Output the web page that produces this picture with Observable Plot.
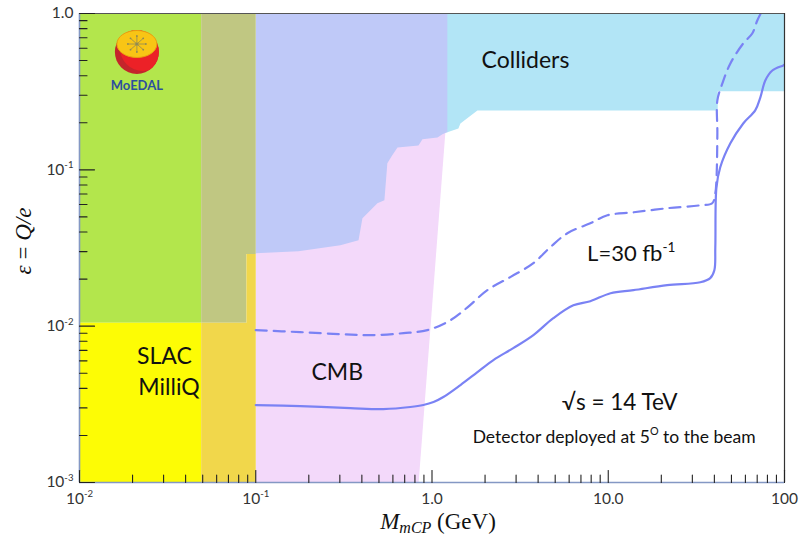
<!DOCTYPE html>
<html><head><meta charset="utf-8">
<script src="https://cdn.jsdelivr.net/npm/d3@7"></script>
<script src="https://cdn.jsdelivr.net/npm/@observablehq/plot@0.6"></script>
<style>body{margin:0;background:#fff}#chart{width:800px;height:535px}</style>
</head><body><div id="chart"></div>
<script>
// ---------- data ----------
const xDomain = [0.01, 100];
const yDomain = [0.001, 1];

// excluded regions (polygon vertices, GeV / epsilon)
const collidersX = [1.0, 100, 100, 41.8, 41.8, 1.81, 1.449, 1.412, 1.222, 1.0];
const collidersY = [1, 1, 0.318, 0.318, 0.240, 0.240, 0.198, 0.184, 0.174, 0.174];
const cmbX = [0.1, 0.84, 1.19, 0.1];
const cmbY = [0.001, 0.001, 0.172, 0.172];
const otherX = [0.1, 1.222, 1.222, 1.19, 1.146, 1.074, 0.883, 0.838, 0.637, 0.595, 0.558, 0.537, 0.490, 0.403, 0.383, 0.302, 0.1746, 0.1];
const otherY = [1, 1, 0.174, 0.172, 0.169, 0.161, 0.157, 0.143, 0.139, 0.124, 0.110, 0.0638, 0.0611, 0.0490, 0.0355, 0.0329, 0.0302, 0.0293];
const greenX = [0.01, 0.049, 0.049, 0.01];
const greenY = [0.0105, 0.0105, 1, 1];
const slacX = [0.01, 0.049, 0.049, 0.01];
const slacY = [0.001, 0.001, 0.0105, 0.0105];
const oliveX = [0.049, 0.1, 0.1, 0.0885, 0.0885, 0.049];
const oliveY = [1, 1, 0.029, 0.029, 0.0105, 0.0105];
const goldX = [0.049, 0.0885, 0.0885, 0.1, 0.1, 0.049];
const goldY = [0.0105, 0.0105, 0.029, 0.029, 0.001, 0.001];

// MoEDAL sensitivity, L = 30 fb^-1 (solid)
const solidX = [0.1, 0.179, 0.344, 0.530, 0.753, 0.893, 1.02, 1.16, 1.45, 1.81, 2.23, 2.89, 3.76, 4.88, 6.34, 7.91, 10.3, 13.9, 21.6, 33.3, 37.9, 40.0, 40.5, 41.1, 43.2, 49.3, 58.3, 68.2, 72.9, 77.8, 85.3, 98.4, 100];
const solidY = [0.00313, 0.00308, 0.00299, 0.00295, 0.00304, 0.00313, 0.00327, 0.00352, 0.0042, 0.00508, 0.00607, 0.00723, 0.00876, 0.01125, 0.0136, 0.01445, 0.01625, 0.0170, 0.01829, 0.0191, 0.0203, 0.0228, 0.0320, 0.0773, 0.1038, 0.1477, 0.198, 0.240, 0.290, 0.373, 0.432, 0.465, 0.47];
// dashed curve
const dashX = [0.1, 0.179, 0.302, 0.448, 0.689, 0.942, 1.27, 1.59, 2.06, 2.78, 3.76, 4.69, 5.86, 7.91, 9.89, 13.9, 21.6, 33.3, 38.9, 40.5, 41.1, 41.6, 41.6, 44.4, 49.3, 58.3, 65.6, 70.1, 74.8];
const dashY = [0.00943, 0.00916, 0.00889, 0.00876, 0.00902, 0.00943, 0.0109, 0.0132, 0.0170, 0.0206, 0.0253, 0.0320, 0.0393, 0.0455, 0.0512, 0.0535, 0.0568, 0.0593, 0.0611, 0.0708, 0.0857, 0.171, 0.278, 0.357, 0.479, 0.643, 0.745, 0.902, 1.045];

// ticks and labels
const xMajor = [0.01, 0.1, 1, 10, 100];
const xTickLabels = ["10^{-2}", "10^{-1}", "1.0", "10.0", "100"];
const yMajor = [1, 0.1, 0.01, 0.001];
const yTickLabels = ["1.0", "10^{-1}", "10^{-2}", "10^{-3}"];
const minorSteps = [2, 3, 4, 5, 6, 7, 8, 9];
const xMinor = [0.01, 0.1, 1, 10].flatMap(d => minorSteps.map(k => d * k));
const yMinor = [0.001, 0.01, 0.1].flatMap(d => minorSteps.map(k => d * k));

// annotations
const labels = [
  {x: 3.39, y: 0.50, text: "Colliders", size: 23},
  {x: 13.5, y: 0.0288, text: "L=30 fb^{-1}", size: 22},
  {x: 0.0303, y: 0.00634, text: "SLAC", size: 23},
  {x: 0.0322, y: 0.00402, text: "MilliQ", size: 23},
  {x: 0.290, y: 0.00508, text: "CMB", size: 23},
  {x: 11.6, y: 0.00322, text: "√s = 14 TeV", size: 22.5},
  {x: 10.8, y: 0.00195, text: "Detector deployed at 5^{O} to the beam", size: 17.5}
];

const C = {
  colliders: "#b2e5f6", cmb: "#f3d9fa", other: "#bfc9f8", green: "#b3e64c",
  slac: "#fdfc05", olive: "#c0c782", gold: "#f1d74b", line: "#7a82f4"
};

const poly = (X, Y, fill) => Plot.line(X.map((_, i) => i), {x: i => X[i], y: i => Y[i], fill, stroke: "none", curve: "linear-closed"});
const tickShape = {draw(ctx, l) { ctx.moveTo(0, 0); ctx.lineTo(0, -l); }};
const font = "Lato, 'Open Sans', sans-serif";

const plot = Plot.plot({
  width: 800, height: 535,
  marginLeft: 79, marginRight: 16, marginTop: 13, marginBottom: 53,
  style: {fontFamily: font, fontSize: "15px", background: "white", color: "#333"},
  x: {type: "log", domain: xDomain, label: null},
  y: {type: "log", domain: yDomain, label: null},
  marks: [
    poly(collidersX, collidersY, C.colliders),
    poly(cmbX, cmbY, C.cmb),
    poly(otherX, otherY, C.other),
    poly(greenX, greenY, C.green),
    poly(slacX, slacY, C.slac),
    poly(oliveX, oliveY, C.olive),
    poly(goldX, goldY, C.gold),
    Plot.line(dashX.map((_, i) => i), {x: i => dashX[i], y: i => dashY[i], stroke: C.line, strokeWidth: 2.2, strokeDasharray: "11,7", curve: "catmull-rom", clip: true}),
    Plot.line(solidX.map((_, i) => i), {x: i => solidX[i], y: i => solidY[i], stroke: C.line, strokeWidth: 2.2, curve: "catmull-rom", clip: true}),
    Plot.ruleY([yDomain[1]], {stroke: "#555", strokeWidth: 1}),
    Plot.ruleX([xDomain[1]], {stroke: "#333", strokeWidth: 1.2}),
    Plot.ruleX([xDomain[0]], {stroke: "#8498c4", strokeWidth: 1.6}),
    Plot.ruleY([yDomain[0]], {stroke: "#8498c4", strokeWidth: 1.6}),
    Plot.vector(xMajor, {x: d => d, y: () => yDomain[0], length: 12, rotate: 0, anchor: "start", shape: tickShape, stroke: "#222", strokeWidth: 1.1}),
    Plot.vector(xMinor, {x: d => d, y: () => yDomain[0], length: 7.5, rotate: 0, anchor: "start", shape: tickShape, stroke: "#222", strokeWidth: 1.1}),
    Plot.vector(yMajor, {x: () => xDomain[0], y: d => d, length: 15, rotate: 90, anchor: "start", shape: tickShape, stroke: "#222", strokeWidth: 1.1}),
    Plot.vector(yMinor, {x: () => xDomain[0], y: d => d, length: 7.5, rotate: 90, anchor: "start", shape: tickShape, stroke: "#222", strokeWidth: 1.1}),
    Plot.axisX({ticks: xMajor, tickFormat: d => xTickLabels[xMajor.indexOf(d)], tickSize: 0, tickPadding: 10, fill: "#333", fontSize: 15.5, label: null}),
    Plot.axisY({ticks: yMajor, tickFormat: d => yTickLabels[yMajor.indexOf(d)], tickSize: 0, tickPadding: 6, fill: "#333", fontSize: 15.5, label: null}),
    Plot.text(labels, {x: "x", y: "y", text: "text", fontSize: "size", fill: "#111"})
  ]
});
plot.setAttribute("font-family", font);
document.getElementById("chart").appendChild(plot);

// rich text: a^{b} -> superscript tspans
const NS = "http://www.w3.org/2000/svg";
function richify(el) {
  const s = el.textContent;
  if (!s.includes("^{")) return;
  const fs = parseFloat(getComputedStyle(el).fontSize) || 15;
  while (el.firstChild) el.removeChild(el.firstChild);
  const parts = s.split(/(\^\{[^}]*\})/).filter(p => p.length);
  let raised = false;
  for (const p of parts) {
    const t = document.createElementNS(NS, "tspan");
    if (p.startsWith("^{")) {
      t.textContent = p.slice(2, -1);
      t.setAttribute("font-size", (fs * 0.62).toFixed(1));
      t.setAttribute("dy", (-fs * 0.42).toFixed(1));
      raised = true;
    } else {
      t.textContent = p;
      if (raised) { t.setAttribute("dy", (fs * 0.42).toFixed(1)); raised = false; }
    }
    el.appendChild(t);
  }
}
plot.querySelectorAll("text").forEach(richify);

// axis titles
const svg = d3.select(plot);
const serif = "'Liberation Serif', 'DejaVu Serif', serif";
const yt = svg.append("text").attr("transform", "translate(31,241) rotate(-90)")
  .attr("text-anchor", "middle").attr("font-family", serif).attr("font-size", 23).attr("fill", "#111");
yt.append("tspan").attr("font-style", "italic").text("ε");
yt.append("tspan").text(" = ");
yt.append("tspan").attr("font-style", "italic").text("Q/e");
const xt = svg.append("text").attr("x", 438).attr("y", 529)
  .attr("text-anchor", "middle").attr("font-family", serif).attr("font-size", 23).attr("fill", "#111");
xt.append("tspan").attr("font-style", "italic").text("M");
xt.append("tspan").attr("font-style", "italic").attr("font-size", 16).attr("dy", 4).text("mCP");
xt.append("tspan").attr("dy", -4).text(" (GeV)");

// MoEDAL logo (placed through the chart's scales)
const sx = plot.scale("x"), sy = plot.scale("y");
const cx = sx.apply(0.0213), cy = sy.apply(0.563);
const logo = svg.append("g").attr("transform", `translate(${cx},${cy})`);
const defs = svg.append("defs");
defs.append("clipPath").attr("id", "logoclip").append("circle").attr("r", 22);
logo.append("circle").attr("r", 22).attr("fill", "#c4252b");
logo.append("circle").attr("cx", 6).attr("cy", -4).attr("r", 23).attr("fill", "#ec2127").attr("clip-path", "url(#logoclip)");
logo.append("ellipse").attr("cx", 0).attr("cy", -8).attr("rx", 20).attr("ry", 13.5).attr("fill", "#f8c515").attr("stroke", "#e8a010").attr("stroke-width", 1);
for (let k = 0; k < 8; k++) {
  const a = k * Math.PI / 4;
  logo.append("line").attr("x1", 0).attr("y1", -8).attr("x2", 9 * Math.cos(a)).attr("y2", -8 + 8 * Math.sin(a))
    .attr("stroke", "#8f8a55").attr("stroke-width", 0.8);
  logo.append("circle").attr("cx", 9 * Math.cos(a)).attr("cy", -8 + 8 * Math.sin(a)).attr("r", 0.9).attr("fill", "#8f8a55");
}
logo.append("circle").attr("cx", 0).attr("cy", -8).attr("r", 1.6).attr("fill", "#8f8a55");
logo.append("text").attr("y", 38).attr("text-anchor", "middle").attr("font-family", font)
  .attr("font-weight", "bold").attr("font-size", 13).attr("fill", "#2d4e9e").text("MoEDAL");
</script></body></html>
